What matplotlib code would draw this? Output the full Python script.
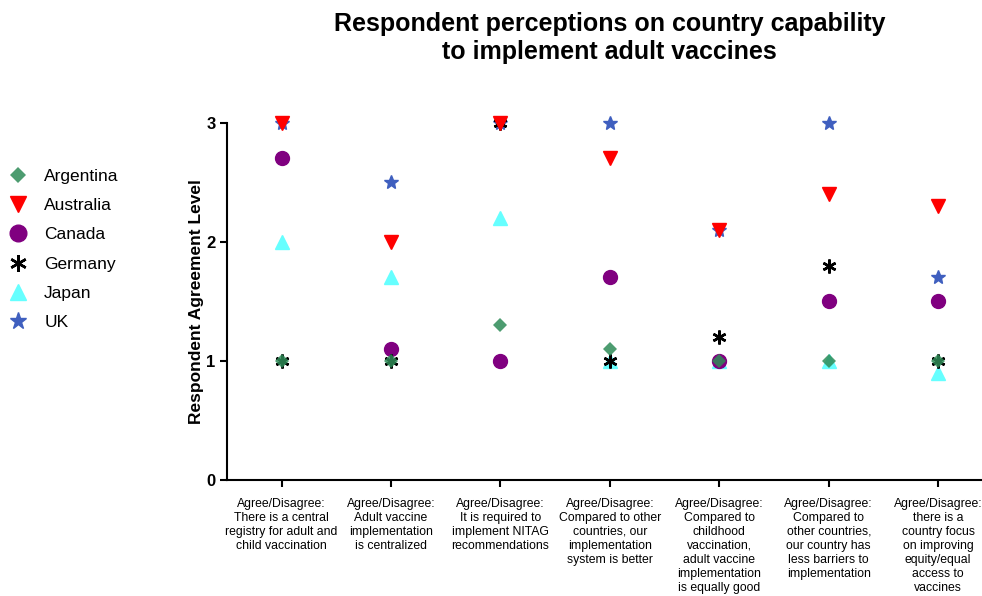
import numpy as np
import matplotlib
matplotlib.use("Agg")
import matplotlib.pyplot as plt

plt.rcParams['font.family'] = ['Liberation Sans', 'DejaVu Sans']

# 設問ラベル
questions = [
    "Agree/Disagree:\nThere is a central\nregistry for adult and\nchild vaccination",
    "Agree/Disagree:\nAdult vaccine\nimplementation\nis centralized",
    "Agree/Disagree:\nIt is required to\nimplement NITAG\nrecommendations",
    "Agree/Disagree:\nCompared to other\ncountries, our\nimplementation\nsystem is better",
    "Agree/Disagree:\nCompared to\nchildhood\nvaccination,\nadult vaccine\nimplementation\nis equally good",
    "Agree/Disagree:\nCompared to\nother countries,\nour country has\nless barriers to\nimplementation",
    "Agree/Disagree:\nthere is a\ncountry focus\non improving\nequity/equal\naccess to\nvaccines",
]

# 国ごとの回答値
argentina = [1.0, 1.0, 1.3, 1.1, 1.0, 1.0, 1.0]
australia = [3.0, 2.0, 3.0, 2.7, 2.1, 2.4, 2.3]
canada    = [2.7, 1.1, 1.0, 1.7, 1.0, 1.5, 1.5]
germany   = [1.0, 1.0, 3.0, 1.0, 1.2, 1.8, 1.0]
japan     = [2.0, 1.7, 2.2, 1.0, 1.0, 1.0, 0.9]
uk        = [3.0, 2.5, 3.0, 3.0, 2.1, 3.0, 1.7]

yticks = [0, 1, 2, 3]

x = np.arange(len(questions))

fig = plt.figure(figsize=(9.82, 5.96), dpi=100)
ax = fig.add_axes([0.231, 0.195, 0.769, 0.599])

# 描画順は重なり方に合わせる
h_uk, = ax.plot(x, uk, ls='none', marker='*', ms=10.5, color='#3f5fbf', clip_on=False, zorder=3)
h_jp, = ax.plot(x, japan, ls='none', marker='^', ms=10, color='#66ffff', clip_on=False, zorder=3)
h_ca, = ax.plot(x, canada, ls='none', marker='o', ms=10, color='#800080', clip_on=False, zorder=4)
h_de, = ax.plot(x, germany, ls='none', marker=(6, 2, 0), ms=10, mew=1.8, color='black', clip_on=False, zorder=5)
h_au, = ax.plot(x, australia, ls='none', marker='v', ms=10, color='#ff0000', clip_on=False, zorder=6)
h_ar, = ax.plot(x, argentina, ls='none', marker='D', ms=7, color='#2e8b57', alpha=0.85, mew=0, clip_on=False, zorder=7)

ax.set_xlim(-0.5, 6.4)
ax.set_ylim(0, 3)
ax.set_yticks(yticks)
ax.set_yticklabels([str(v) for v in yticks], fontsize=12, fontweight='bold')
ax.set_xticks(x)
ax.set_xticklabels(questions, fontsize=8.8, linespacing=1.22, va='top')
ax.tick_params(axis='both', width=1.5, length=5, direction='out')
ax.tick_params(axis='x', pad=8)
ax.tick_params(axis='y', pad=3)
for s in ['top', 'right']:
    ax.spines[s].set_visible(False)
for s in ['left', 'bottom']:
    ax.spines[s].set_linewidth(1.5)
ax.set_ylabel('Respondent Agreement Level', fontsize=12.5, fontweight='bold', labelpad=2)

fig.legend([h_ar, h_au, h_ca, h_de, h_jp, h_uk],
           ['Argentina', 'Australia', 'Canada', 'Germany', 'Japan', 'UK'],
           loc='upper left', bbox_to_anchor=(-0.008, 0.743), frameon=False,
           fontsize=12.5, labelspacing=0.81, handletextpad=0.9, handlelength=1.2,
           markerscale=1.2)

fig.suptitle('Respondent perceptions on country capability\nto implement adult vaccines',
             x=0.621, y=0.98, fontsize=18, fontweight='bold', va='top', linespacing=1.2)

fig.savefig('out.png', dpi=100)
